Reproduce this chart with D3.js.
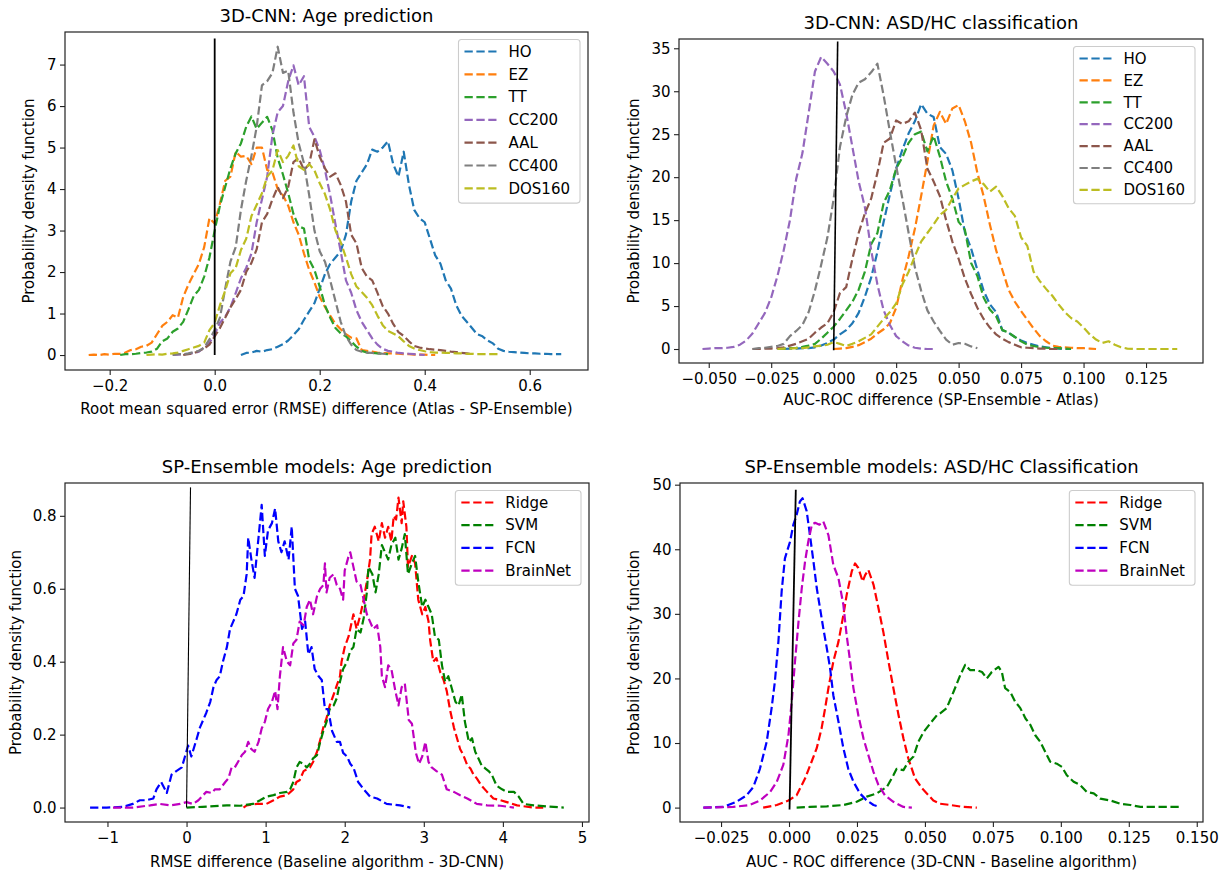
<!DOCTYPE html>
<html>
<head>
<meta charset="utf-8">
<script src="https://cdn.jsdelivr.net/npm/d3@7"></script>
<style>
  body { margin: 0; background: #fff; }
  svg text { font-family: "DejaVu Sans", sans-serif; }
</style>
</head>
<body>
<svg id="chart" width="1228" height="875"></svg>
<script>
// ---------- data ----------

const atlasNames = ["HO", "EZ", "TT", "CC200", "AAL", "CC400", "DOS160"]
const modelNames = ["Ridge", "SVM", "FCN", "BrainNet"]

// 3D-CNN age prediction: density per 0.01 bin, first bin given by ageStarts
const ageStep = 0.01
const ageStarts = [0.05, -0.24, -0.18, -0.08, -0.06, -0.08, -0.13]
const ageHO = [0.0, 0.05, 0.06, 0.1, 0.08, 0.12, 0.14, 0.2, 0.26, 0.35, 0.48, 0.62, 0.85, 1.05, 1.25, 1.6, 1.95, 2.2, 2.35, 2.5,
  2.9, 3.7, 4.2, 4.4, 4.6, 4.95, 4.9, 5.0, 5.15, 4.6, 4.3, 4.9, 4.1, 3.5, 3.3, 3.2, 2.8, 2.4, 2.2, 1.8,
  1.6, 1.2, 0.95, 0.8, 0.65, 0.5, 0.45, 0.35, 0.28, 0.15, 0.1, 0.08, 0.07, 0.06, 0.05, 0.04, 0.04, 0.03, 0.03, 0.02, 0.02, 0.02]
const ageEZ = [0.0, 0.01, 0.0, 0.02, 0.01, 0.03, 0.03, 0.06, 0.12, 0.14, 0.2, 0.22, 0.3, 0.5, 0.7, 0.8, 0.96, 0.9, 1.4, 1.7,
  1.95, 2.2, 2.6, 3.3, 3.17, 3.65, 4.2, 4.3, 4.9, 4.78, 4.8, 4.6, 5.0, 5.0, 4.46, 4.4, 4.0, 3.85, 3.6, 3.2,
  2.9, 2.45, 2.05, 1.75, 1.4, 1.16, 0.95, 0.75, 0.62, 0.5, 0.42, 0.4, 0.12, 0.1, 0.08, 0.06, 0.05, 0.04, 0.04, 0.03,
  0.02, 0.02, 0.01, 0.01, 0.01, 0.0, 0.0]
const ageTT = [0.0, 0.02, 0.02, 0.03, 0.05, 0.06, 0.08, 0.15, 0.33, 0.4, 0.56, 0.64, 0.8, 1.1, 1.42, 1.57, 1.89, 2.35, 3.0, 3.6,
  4.05, 4.5, 4.86, 5.1, 5.5, 5.75, 5.45, 5.6, 5.74, 5.42, 4.75, 4.35, 3.9, 3.4, 3.1, 3.05, 2.3, 2.05, 1.65, 1.2,
  0.9, 0.65, 0.52, 0.45, 0.33, 0.2, 0.1, 0.06, 0.05, 0.04, 0.03, 0.02]
const ageCC200 = [0.0, 0.01, 0.02, 0.03, 0.05, 0.08, 0.18, 0.3, 0.5, 0.78, 0.92, 1.15, 1.49, 1.85, 2.1, 2.45, 3.2, 3.75, 4.3, 5.3,
  5.85, 6.0, 6.6, 6.98, 6.5, 6.72, 5.5, 5.26, 4.94, 4.46, 3.85, 3.15, 2.5, 1.8, 1.5, 1.08, 0.8, 0.6, 0.4, 0.25,
  0.15, 0.1, 0.08, 0.05, 0.04, 0.03, 0.02, 0.01, 0.0]
const ageAAL = [0.0, 0.02, 0.04, 0.1, 0.16, 0.25, 0.45, 0.65, 0.9, 1.15, 1.35, 1.57, 2.0, 2.22, 2.55, 3.2, 3.4, 3.75, 4.05, 3.78,
  4.05, 4.65, 4.75, 4.46, 4.6, 5.2, 4.78, 4.5, 4.3, 4.38, 4.1, 3.7, 2.9, 2.69, 2.1, 1.89, 1.8, 1.5, 1.18, 1.0,
  0.75, 0.55, 0.46, 0.33, 0.22, 0.18, 0.16, 0.14, 0.13, 0.12, 0.1, 0.08, 0.07, 0.05, 0.04, 0.02]
const ageCC400 = [0.0, 0.02, 0.02, 0.04, 0.07, 0.1, 0.18, 0.38, 0.6, 0.9, 1.6, 2.25, 2.6, 3.5, 4.2, 4.8, 5.5, 6.5, 6.6, 6.8,
  7.43, 6.8, 6.85, 5.85, 5.1, 4.62, 3.85, 3.0, 2.5, 2.25, 1.8, 1.3, 0.8, 0.45, 0.25, 0.12, 0.08, 0.06, 0.05, 0.04,
  0.03, 0.02]
const ageDOS160 = [0.0, 0.01, 0.02, 0.01, 0.03, 0.04, 0.06, 0.1, 0.14, 0.18, 0.22, 0.3, 0.6, 0.78, 1.2, 1.55, 1.97, 2.1, 2.53, 2.8,
  3.35, 3.62, 3.9, 4.3, 4.45, 4.94, 4.65, 4.8, 5.05, 4.55, 4.46, 4.6, 4.45, 4.14, 3.88, 3.5, 3.0, 2.72, 2.35, 1.95,
  1.65, 1.52, 1.38, 1.2, 0.95, 0.72, 0.58, 0.52, 0.45, 0.33, 0.22, 0.16, 0.12, 0.09, 0.07, 0.06, 0.06, 0.05, 0.05, 0.04,
  0.04, 0.03, 0.03, 0.02, 0.02, 0.02, 0.02, 0.02]
const ageSeries = [ageHO, ageEZ, ageTT, ageCC200, ageAAL, ageCC400, ageDOS160]

// 3D-CNN ASD/HC classification: density per 0.0025 bin
const asdStep = 0.0025
const asdStarts = [-0.02, 0.0, -0.0225, -0.0525, -0.0325, -0.0325, -0.0225]
const asdHO = [0.0, 0.05, 0.05, 0.1, 0.1, 0.2, 0.4, 0.7, 1.1, 1.7, 2.2, 3.0, 4.2, 6.1, 8.3, 11.3, 14.8, 18.0, 21.0, 23.2,
  25.1, 26.5, 28.5, 27.4, 27.0, 23.5, 22.7, 20.8, 17.5, 13.6, 11.7, 9.2, 6.8, 5.2, 4.3, 2.2, 1.9, 1.4, 1.0, 0.7,
  0.5, 0.3, 0.2, 0.1, 0.05, 0.0, 0.0]
const asdEZ = [0.0, 0.05, 0.1, 0.25, 0.45, 0.8, 1.2, 1.8, 2.3, 3.0, 4.8, 8.0, 10.8, 14.0, 17.8, 21.8, 26.0, 27.6, 26.2, 28.0,
  28.4, 26.5, 24.0, 20.5, 17.8, 14.5, 11.5, 9.2, 6.9, 5.5, 4.4, 3.4, 2.4, 1.5, 0.9, 0.4, 0.25, 0.2, 0.15, 0.1,
  0.1, 0.05, 0.0]
const asdTT = [0.0, 0.05, 0.1, 0.15, 0.25, 0.4, 0.6, 1.2, 1.9, 2.6, 3.5, 4.5, 5.5, 6.9, 9.0, 12.2, 13.5, 17.0, 18.5, 21.0,
  22.3, 24.0, 25.0, 25.3, 23.0, 24.8, 22.4, 19.5, 17.5, 14.8, 13.9, 10.0, 8.5, 6.0, 4.6, 3.8, 2.2, 1.9, 1.4, 0.9,
  0.5, 0.35, 0.2, 0.15, 0.1, 0.1, 0.05, 0.0]
const asdCC200 = [0.0, 0.05, 0.1, 0.1, 0.15, 0.25, 0.5, 1.0, 1.8, 3.0, 4.2, 6.0, 8.5, 11.5, 15.0, 19.8, 22.8, 27.5, 32.3, 34.0,
  33.2, 32.3, 30.8, 27.5, 23.5, 19.5, 16.5, 11.5, 7.5, 4.5, 2.8, 1.5, 0.9, 0.4, 0.15, 0.05, 0.0, 0.0]
const asdAAL = [0.0, 0.0, 0.05, 0.05, 0.1, 0.2, 0.4, 0.6, 0.9, 1.2, 1.9, 2.5, 3.0, 4.3, 6.5, 7.2, 10.5, 13.5, 15.8, 17.5,
  20.5, 24.0, 24.5, 26.6, 26.2, 26.5, 27.5, 25.5, 21.0, 19.5, 17.8, 15.0, 12.5, 10.5, 8.2, 6.4, 4.8, 3.5, 2.5, 1.7,
  1.2, 0.8, 0.5, 0.2, 0.15, 0.1, 0.05, 0.05, 0.0, 0.0]
const asdCC400 = [0.0, 0.1, 0.15, 0.25, 0.35, 0.6, 1.5, 2.1, 2.8, 4.3, 6.8, 9.8, 13.0, 17.5, 23.5, 27.0, 29.6, 31.0, 31.4, 32.2,
  33.2, 29.5, 25.3, 21.3, 17.5, 13.5, 9.5, 6.8, 4.5, 3.2, 2.1, 1.1, 0.5, 0.7, 0.6, 0.3, 0.1]
const asdDOS160 = [0.0, 0.05, 0.05, 0.1, 0.1, 0.2, 0.3, 0.4, 0.5, 0.8, 0.6, 0.35, 0.6, 0.9, 1.3, 1.7, 2.6, 3.5, 4.3, 5.3,
  7.5, 9.0, 10.8, 12.5, 13.5, 14.5, 15.6, 16.2, 17.5, 18.7, 19.1, 19.5, 19.8, 19.2, 18.3, 18.9, 17.8, 16.4, 15.5, 13.0,
  12.0, 9.0, 7.9, 7.0, 6.2, 5.2, 4.3, 3.6, 3.2, 2.5, 1.7, 1.1, 0.7, 0.9, 0.5, 0.2, 0.05, 0.0, 0.0, 0.0,
  0.0, 0.0, 0.0, 0.0, 0.0]
const asdSeries = [asdHO, asdEZ, asdTT, asdCC200, asdAAL, asdCC400, asdDOS160]

// SP-Ensemble age prediction: [RMSE difference, density]
const spAgeRidge = [[0.72, 0], [0.76, 0.006], [0.89, 0.01], [1.01, 0.01], [1.1, 0.02], [1.18, 0.03], [1.27, 0.034], [1.35, 0.05],
  [1.39, 0.07], [1.43, 0.075], [1.48, 0.1], [1.52, 0.105], [1.56, 0.11], [1.6, 0.125], [1.65, 0.153], [1.69, 0.185],
  [1.73, 0.22], [1.77, 0.245], [1.81, 0.28], [1.86, 0.31], [1.9, 0.335], [1.94, 0.36], [1.96, 0.4], [2.0, 0.44],
  [2.05, 0.47], [2.09, 0.51], [2.11, 0.53], [2.15, 0.49], [2.2, 0.53], [2.24, 0.57], [2.28, 0.62], [2.32, 0.68],
  [2.34, 0.75], [2.38, 0.77], [2.43, 0.73], [2.47, 0.78], [2.51, 0.74], [2.55, 0.77], [2.59, 0.73], [2.62, 0.8],
  [2.65, 0.79], [2.68, 0.85], [2.72, 0.78], [2.74, 0.84], [2.78, 0.77], [2.8, 0.66], [2.85, 0.69], [2.89, 0.67],
  [2.93, 0.57], [2.98, 0.53], [3.02, 0.55], [3.06, 0.51], [3.08, 0.46], [3.12, 0.4], [3.16, 0.41], [3.21, 0.37],
  [3.25, 0.35], [3.29, 0.32], [3.33, 0.27], [3.38, 0.22], [3.42, 0.19], [3.46, 0.16], [3.5, 0.144], [3.55, 0.116],
  [3.59, 0.107], [3.63, 0.09], [3.67, 0.08], [3.73, 0.06], [3.8, 0.043], [3.88, 0.025], [3.97, 0.02], [4.05, 0.015],
  [4.18, 0.006], [4.39, 0], [4.51, 0]]
const spAgeSVM = [[0.0, 0], [0.2, 0.002], [0.35, 0.004], [0.51, 0.006], [0.68, 0.005], [0.84, 0.01], [0.93, 0.02], [1.01, 0.03],
  [1.1, 0.034], [1.18, 0.04], [1.27, 0.043], [1.31, 0.05], [1.35, 0.07], [1.39, 0.11], [1.43, 0.125], [1.48, 0.12],
  [1.52, 0.11], [1.56, 0.12], [1.6, 0.135], [1.65, 0.144], [1.69, 0.18], [1.73, 0.21], [1.77, 0.235], [1.81, 0.27],
  [1.86, 0.28], [1.9, 0.3], [1.94, 0.345], [1.98, 0.38], [2.03, 0.4], [2.07, 0.43], [2.11, 0.44], [2.15, 0.49],
  [2.2, 0.48], [2.24, 0.52], [2.28, 0.59], [2.3, 0.66], [2.35, 0.64], [2.39, 0.59], [2.43, 0.64], [2.47, 0.72],
  [2.51, 0.7], [2.55, 0.68], [2.59, 0.72], [2.64, 0.74], [2.68, 0.68], [2.72, 0.71], [2.76, 0.75], [2.8, 0.64],
  [2.85, 0.67], [2.89, 0.69], [2.93, 0.62], [2.98, 0.55], [3.02, 0.57], [3.06, 0.55], [3.1, 0.53], [3.14, 0.47],
  [3.19, 0.46], [3.23, 0.39], [3.27, 0.345], [3.31, 0.36], [3.35, 0.33], [3.4, 0.29], [3.44, 0.28], [3.48, 0.31],
  [3.52, 0.235], [3.57, 0.18], [3.61, 0.19], [3.65, 0.153], [3.69, 0.135], [3.73, 0.116], [3.78, 0.107], [3.82, 0.1],
  [3.86, 0.09], [3.92, 0.06], [3.99, 0.05], [4.05, 0.043], [4.14, 0.043], [4.2, 0.03], [4.26, 0.01], [4.39, 0.006],
  [4.56, 0.003], [4.77, 0]]
const spAgeFCN = [[-1.22, 0], [-1.01, 0], [-0.8, 0.002], [-0.68, 0.01], [-0.59, 0.02], [-0.51, 0.02], [-0.42, 0.025], [-0.38, 0.05],
  [-0.32, 0.07], [-0.25, 0.04], [-0.19, 0.09], [-0.13, 0.1], [-0.06, 0.11], [-0.02, 0.14], [0.02, 0.17], [0.06, 0.14],
  [0.13, 0.19], [0.17, 0.22], [0.21, 0.24], [0.25, 0.26], [0.3, 0.29], [0.34, 0.33], [0.38, 0.35], [0.42, 0.36],
  [0.46, 0.4], [0.51, 0.44], [0.55, 0.49], [0.59, 0.51], [0.63, 0.53], [0.68, 0.57], [0.72, 0.58], [0.76, 0.64],
  [0.78, 0.74], [0.82, 0.68], [0.86, 0.63], [0.91, 0.74], [0.95, 0.83], [0.99, 0.69], [1.03, 0.76], [1.08, 0.78],
  [1.12, 0.82], [1.16, 0.73], [1.2, 0.7], [1.24, 0.73], [1.29, 0.68], [1.33, 0.77], [1.37, 0.6], [1.41, 0.58],
  [1.46, 0.49], [1.5, 0.51], [1.54, 0.42], [1.58, 0.44], [1.62, 0.38], [1.67, 0.36], [1.71, 0.35], [1.75, 0.27],
  [1.79, 0.27], [1.84, 0.21], [1.9, 0.18], [1.94, 0.18], [1.98, 0.15], [2.03, 0.14], [2.07, 0.12], [2.11, 0.11],
  [2.17, 0.07], [2.24, 0.05], [2.32, 0.03], [2.41, 0.025], [2.53, 0.01], [2.7, 0.006], [2.83, 0]]
const spAgeBrainNet = [[-0.93, 0], [-0.68, 0], [-0.46, 0.006], [-0.34, 0.01], [-0.21, 0.006], [-0.08, 0.01], [0.0, 0.015], [0.08, 0.01],
  [0.15, 0.02], [0.21, 0.034], [0.25, 0.043], [0.32, 0.04], [0.36, 0.05], [0.42, 0.05], [0.49, 0.07], [0.53, 0.08],
  [0.57, 0.11], [0.61, 0.11], [0.65, 0.125], [0.7, 0.144], [0.74, 0.153], [0.78, 0.18], [0.82, 0.16], [0.86, 0.153],
  [0.91, 0.18], [0.95, 0.217], [0.99, 0.235], [1.03, 0.27], [1.08, 0.29], [1.12, 0.32], [1.15, 0.27], [1.18, 0.36],
  [1.22, 0.44], [1.27, 0.4], [1.31, 0.39], [1.35, 0.45], [1.39, 0.46], [1.43, 0.51], [1.48, 0.5], [1.52, 0.55],
  [1.56, 0.57], [1.6, 0.53], [1.65, 0.58], [1.69, 0.6], [1.73, 0.61], [1.75, 0.67], [1.77, 0.59], [1.81, 0.63],
  [1.86, 0.64], [1.9, 0.61], [1.94, 0.6], [1.98, 0.57], [2.0, 0.65], [2.05, 0.69], [2.07, 0.7], [2.11, 0.66],
  [2.15, 0.62], [2.2, 0.61], [2.24, 0.57], [2.28, 0.53], [2.32, 0.51], [2.36, 0.49], [2.41, 0.5], [2.45, 0.44],
  [2.47, 0.36], [2.51, 0.33], [2.55, 0.39], [2.59, 0.38], [2.64, 0.32], [2.68, 0.28], [2.72, 0.33], [2.76, 0.34],
  [2.81, 0.24], [2.85, 0.23], [2.9, 0.15], [2.94, 0.12], [2.98, 0.14], [3.02, 0.18], [3.06, 0.125], [3.1, 0.11],
  [3.16, 0.1], [3.23, 0.09], [3.29, 0.05], [3.38, 0.043], [3.46, 0.034], [3.55, 0.025], [3.67, 0.01], [3.8, 0.006],
  [3.97, 0.005], [4.14, 0]]
const spAgeSeries = [spAgeRidge, spAgeSVM, spAgeFCN, spAgeBrainNet]

// SP-Ensemble ASD/HC classification: [AUC difference, density]
const spAsdRidge = [[-0.0095, 0], [-0.0045, 0.4], [-0.0002, 1.1], [0.0028, 1.9], [0.004, 2.9], [0.0059, 4.5], [0.0083, 7.1],
  [0.0102, 9.2], [0.012, 12.3], [0.0133, 15.4], [0.0145, 18.5], [0.0163, 22.6], [0.0182, 25.7], [0.02, 29.8],
  [0.0212, 32.9], [0.0231, 36.6], [0.0243, 37.8], [0.0255, 37.1], [0.0271, 35.0], [0.028, 36.0], [0.0292, 36.8],
  [0.0311, 34.5], [0.0329, 30.9], [0.0347, 27.2], [0.0366, 22.6], [0.0384, 18.5], [0.0403, 14.3], [0.0421, 10.7],
  [0.0439, 7.6], [0.0464, 4.5], [0.0489, 3.0], [0.0507, 2.2], [0.0531, 1.1], [0.0556, 0.6], [0.0593, 0.4],
  [0.0642, 0.1], [0.0691, 0]]
const spAsdSVM = [[0.0028, 0], [0.0077, 0.1], [0.0139, 0.2], [0.02, 0.4], [0.0249, 0.9], [0.0286, 1.7], [0.0323, 2.2],
  [0.036, 3.2], [0.0384, 5.0], [0.0396, 6.0], [0.0421, 5.8], [0.0439, 7.1], [0.0458, 7.9], [0.0476, 10.2],
  [0.0495, 11.7], [0.0519, 13.0], [0.0544, 14.3], [0.0556, 14.6], [0.058, 15.4], [0.0605, 17.9], [0.063, 20.5],
  [0.0648, 22.1], [0.0666, 21.3], [0.0691, 21.3], [0.071, 21.0], [0.0728, 20.0], [0.0746, 21.0], [0.0771, 21.8],
  [0.0783, 21.0], [0.0795, 18.5], [0.0814, 17.9], [0.0832, 16.4], [0.0851, 15.4], [0.087, 13.8], [0.0888, 12.8],
  [0.0906, 11.2], [0.0924, 10.2], [0.0943, 8.6], [0.0961, 7.1], [0.0985, 6.8], [0.1004, 6.3], [0.1022, 5.0],
  [0.1047, 4.0], [0.1071, 3.5], [0.1096, 2.4], [0.1121, 2.2], [0.1145, 1.4], [0.1182, 1.1], [0.1219, 0.6],
  [0.1256, 0.4], [0.1293, 0.1], [0.1342, 0.1], [0.1391, 0.1], [0.1434, 0.1]]
const spAsdFCN = [[-0.0315, 0], [-0.0242, 0.1], [-0.0193, 0.9], [-0.0156, 1.9], [-0.0131, 3.2], [-0.0107, 6.0], [-0.0082, 10.2],
  [-0.0064, 15.4], [-0.0052, 19.5], [-0.0039, 25.7], [-0.0027, 33.5], [-0.0015, 38.6], [0.0004, 41.2], [0.0016, 43.8],
  [0.0028, 45.3], [0.004, 47.4], [0.005, 47.9], [0.0065, 45.9], [0.0077, 42.2], [0.009, 38.1], [0.0102, 34.0],
  [0.0114, 30.9], [0.0126, 27.8], [0.0139, 24.7], [0.0151, 21.6], [0.0163, 17.4], [0.0182, 13.3], [0.02, 9.2],
  [0.0218, 6.0], [0.0237, 4.0], [0.0261, 2.2], [0.0286, 1.1], [0.0311, 0.4], [0.0335, 0.1]]
const spAsdBrainNet = [[-0.0315, 0], [-0.0205, 0.1], [-0.0144, 0.4], [-0.0107, 1.1], [-0.007, 2.4], [-0.0045, 4.0], [-0.0021, 6.6],
  [-0.0002, 11.2], [0.001, 16.4], [0.0022, 22.6], [0.0035, 28.8], [0.0047, 34.0], [0.0059, 38.1], [0.0071, 41.2],
  [0.0084, 43.8], [0.0096, 44.1], [0.0112, 43.8], [0.0126, 44.3], [0.0145, 42.2], [0.0163, 37.6], [0.0182, 35.5],
  [0.02, 31.4], [0.0212, 26.7], [0.0225, 22.6], [0.0237, 18.5], [0.0255, 14.3], [0.0274, 10.7], [0.0292, 8.1],
  [0.0311, 5.5], [0.0329, 3.5], [0.0353, 1.9], [0.0384, 0.9], [0.0421, 0.1], [0.0452, 0]]
const spAsdSeries = [spAsdRidge, spAsdSVM, spAsdFCN, spAsdBrainNet]

// the black "zero" lines, end points as drawn
const ageZeroLine = [[0, 0], [0, 7.63]]
const asdZeroLine = [[0, -0.15], [0.0016, 35.8]]
const spAgeZeroLine = [[0, 0], [0.05, 0.878]]
const spAsdZeroLine = [[0.0002, -0.3], [0.0025, 49.2]]

// tick values
const ageXTicks = [-0.2, 0, 0.2, 0.4, 0.6]
const ageYTicks = [0, 1, 2, 3, 4, 5, 6, 7]
const asdXTicks = [-0.05, -0.025, 0, 0.025, 0.05, 0.075, 0.1, 0.125]
const asdYTicks = [0, 5, 10, 15, 20, 25, 30, 35]
const spAgeXTicks = [-1, 0, 1, 2, 3, 4, 5]
const spAgeYTicks = [0, 0.2, 0.4, 0.6, 0.8]
const spAsdXTicks = [-0.025, 0, 0.025, 0.05, 0.075, 0.1, 0.125, 0.15]
const spAsdYTicks = [0, 10, 20, 30, 40, 50]

// ---------- drawing ----------

const atlasColors = ["#1f77b4", "#ff7f0e", "#2ca02c", "#9467bd", "#8c564b", "#7f7f7f", "#bcbd22"]
const modelColors = ["#ff0000", "#008000", "#0000ff", "#bf00bf"]
const fontFamily = '"DejaVu Sans", sans-serif'

const svg = d3.select("#chart")
svg.append("rect").attr("width", 1228).attr("height", 875).attr("fill", "#fff")

const toPoints = (start, step, ys) => ys.map((v, i) => [start + i * step, v])

function drawPanel(p) {
  const xScale = d3.scaleLinear().domain(p.xDomain).range([p.box.left, p.box.right])
  const yScale = d3.scaleLinear().domain(p.yDomain).range([p.box.bottom, p.box.top])
  const g = svg.append("g")

  const lineGenerator = d3.line()
    .x(d => xScale(d[0]))
    .y(d => yScale(d[1]))

  p.series.forEach((pts, i) => {
    g.append("path")
      .attr("d", lineGenerator(pts))
      .attr("fill", "none")
      .attr("stroke", p.colors[i])
      .attr("stroke-width", 2.2)
      .attr("stroke-dasharray", "8.3 3.6")
      .attr("stroke-linejoin", "round")
  })

  g.append("path")
    .attr("d", lineGenerator(p.zeroLine))
    .attr("fill", "none")
    .attr("stroke", "#000")
    .attr("stroke-width", p.zeroWidth)

  // frame
  g.append("rect")
    .attr("x", p.box.left)
    .attr("y", p.box.top)
    .attr("width", p.box.right - p.box.left)
    .attr("height", p.box.bottom - p.box.top)
    .attr("fill", "none")
    .attr("stroke", "#222")
    .attr("stroke-width", 1.2)

  const xAxisGenerator = d3.axisBottom(xScale)
    .tickValues(p.xTicks)
    .tickFormat(d3.format(p.xFormat))
    .tickSize(5)
    .tickPadding(5)
  const xAxis = g.append("g")
    .attr("transform", `translate(0,${p.box.bottom})`)
    .call(xAxisGenerator)
  xAxis.select(".domain").remove()

  const yAxisGenerator = d3.axisLeft(yScale)
    .tickValues(p.yTicks)
    .tickFormat(d3.format(p.yFormat))
    .tickSize(5)
    .tickPadding(3.5)
  const yAxis = g.append("g")
    .attr("transform", `translate(${p.box.left},0)`)
    .call(yAxisGenerator)
  yAxis.select(".domain").remove()

  g.selectAll(".tick text")
    .attr("font-size", 15)
    .attr("font-family", fontFamily)
    .attr("fill", "#000")
  g.selectAll(".tick line")
    .attr("stroke", "#222")
    .attr("stroke-width", 1.1)

  const midX = (p.box.left + p.box.right) / 2
  const midY = (p.box.top + p.box.bottom) / 2

  g.append("text")
    .attr("x", midX)
    .attr("y", p.box.top - 16)
    .attr("dy", "0.35em")
    .attr("text-anchor", "middle")
    .attr("font-size", 18)
    .text(p.title)

  g.append("text")
    .attr("x", midX)
    .attr("y", p.box.bottom + p.xLabelGap)
    .attr("dy", "0.35em")
    .attr("text-anchor", "middle")
    .attr("font-size", 15)
    .text(p.xLabel)

  g.append("text")
    .attr("transform", `translate(${p.yLabelX},${midY}) rotate(-90)`)
    .attr("dy", "0.35em")
    .attr("text-anchor", "middle")
    .attr("font-size", 15)
    .text("Probability density function")

  // legend
  const legend = g.append("g")
  const legendTop = p.box.top + 7.5
  const labels = legend.selectAll("text.lbl")
    .data(p.names)
    .join("text")
      .attr("class", "lbl")
      .attr("y", (d, i) => legendTop + 12 + i * p.legendRow)
      .attr("dy", "0.35em")
      .attr("font-size", 15)
      .text(d => d)
  const maxText = d3.max(labels.nodes(), n => n.getComputedTextLength())
  const legendWidth = 50 + maxText + 10
  const legendLeft = p.box.right - 8 - legendWidth
  labels.attr("x", legendLeft + 50)

  legend.insert("rect", ":first-child")
    .attr("x", legendLeft)
    .attr("y", legendTop)
    .attr("width", legendWidth)
    .attr("height", p.names.length * p.legendRow + 4)
    .attr("rx", 3)
    .attr("fill", "#fff")
    .attr("fill-opacity", 0.8)
    .attr("stroke", "#cccccc")
    .attr("stroke-width", 1.1)

  legend.selectAll("line")
    .data(p.names)
    .join("line")
      .attr("x1", legendLeft + 6)
      .attr("x2", legendLeft + 38)
      .attr("y1", (d, i) => legendTop + 12 + i * p.legendRow)
      .attr("y2", (d, i) => legendTop + 12 + i * p.legendRow)
      .attr("stroke", (d, i) => p.colors[i])
      .attr("stroke-width", 2.2)
      .attr("stroke-dasharray", "8.3 3.6")
}

drawPanel({
  box: { left: 65, right: 588, top: 32, bottom: 370 },
  xDomain: [-0.2851, 0.711],
  yDomain: [-0.361, 7.785],
  series: ageSeries.map((ys, i) => toPoints(ageStarts[i], ageStep, ys)),
  names: atlasNames,
  colors: atlasColors,
  zeroLine: ageZeroLine,
  zeroWidth: 1.8,
  xTicks: ageXTicks, yTicks: ageYTicks,
  xFormat: ".1f", yFormat: "d",
  title: "3D-CNN: Age prediction",
  xLabel: "Root mean squared error (RMSE) difference (Atlas - SP-Ensemble)",
  xLabelGap: 39,
  yLabelX: 29,
  legendRow: 22.8,
})

drawPanel({
  box: { left: 679, right: 1203, top: 39, bottom: 363 },
  xDomain: [-0.0619, 0.1478],
  yDomain: [-1.628, 36.08],
  series: asdSeries.map((ys, i) => toPoints(asdStarts[i], asdStep, ys)),
  names: atlasNames,
  colors: atlasColors,
  zeroLine: asdZeroLine,
  zeroWidth: 1.6,
  xTicks: asdXTicks, yTicks: asdYTicks,
  xFormat: ".3f", yFormat: "d",
  title: "3D-CNN: ASD/HC classification",
  xLabel: "AUC-ROC difference (SP-Ensemble - Atlas)",
  xLabelGap: 37,
  yLabelX: 634,
  legendRow: 21.9,
})

drawPanel({
  box: { left: 65, right: 589, top: 483, bottom: 822 },
  xDomain: [-1.537, 5.089],
  yDomain: [-0.0396, 0.89],
  series: spAgeSeries,
  names: modelNames,
  colors: modelColors,
  zeroLine: spAgeZeroLine,
  zeroWidth: 1.1,
  xTicks: spAgeXTicks, yTicks: spAgeYTicks,
  xFormat: "d", yFormat: ".1f",
  title: "SP-Ensemble models: Age prediction",
  xLabel: "RMSE difference (Baseline algorithm - 3D-CNN)",
  xLabelGap: 40,
  yLabelX: 16,
  legendRow: 22.7,
})

drawPanel({
  box: { left: 680, right: 1203, top: 483, bottom: 822 },
  xDomain: [-0.0401, 0.1523],
  yDomain: [-2.23, 50.26],
  series: spAsdSeries,
  names: modelNames,
  colors: modelColors,
  zeroLine: spAsdZeroLine,
  zeroWidth: 1.8,
  xTicks: spAsdXTicks, yTicks: spAsdYTicks,
  xFormat: ".3f", yFormat: "d",
  title: "SP-Ensemble models: ASD/HC Classification",
  xLabel: "AUC - ROC difference (3D-CNN - Baseline algorithm)",
  xLabelGap: 40,
  yLabelX: 634,
  legendRow: 22.7,
})
</script>
</body>
</html>
